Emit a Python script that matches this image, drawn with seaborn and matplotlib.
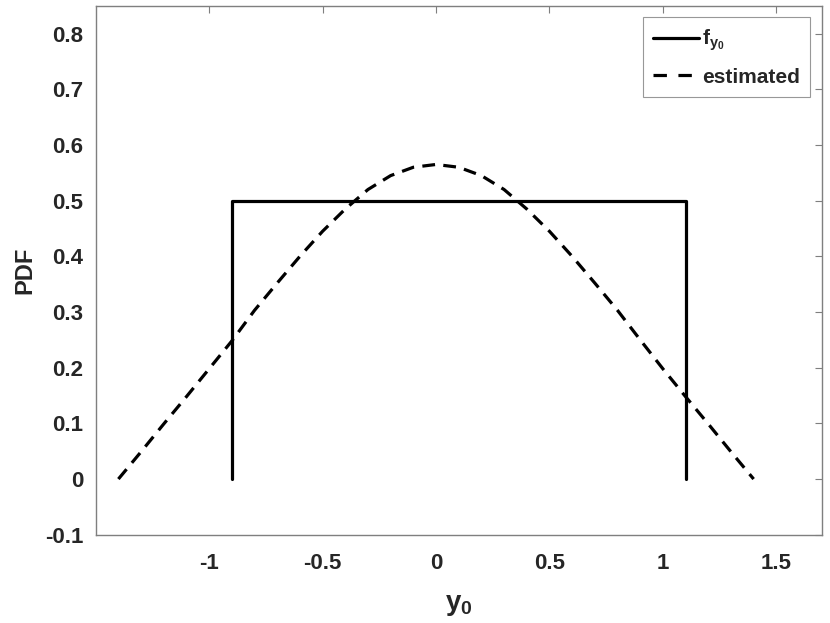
import numpy as np
import pandas as pd
import matplotlib
matplotlib.use("Agg")
import matplotlib.pyplot as plt
import seaborn as sns

# true pdf f_y0 (uniform on [-0.9, 1.1]) drawn as a box outline
true_x = [-0.9, -0.9, 1.1, 1.1]
true_y = [0.0, 0.5, 0.5, 0.0]

# estimated pdf
est_x = [-1.4, -1.3, -1.2, -1.1, -1.0, -0.9, -0.8, -0.7, -0.6, -0.5, -0.4, -0.3, -0.2, -0.1,
         0.0, 0.1, 0.2, 0.3, 0.4, 0.5, 0.6, 0.7, 0.8, 0.9, 1.0, 1.1, 1.2, 1.3, 1.4]
est_y = [0.0, 0.049, 0.099, 0.148, 0.198, 0.248, 0.303, 0.352, 0.400, 0.445, 0.485, 0.520, 0.545, 0.560,
         0.565, 0.560, 0.545, 0.520, 0.485, 0.445, 0.400, 0.352, 0.303, 0.250, 0.198, 0.148, 0.099, 0.049, 0.0]

x_ticks = [-1, -0.5, 0, 0.5, 1, 1.5]
x_ticklabels = ["-1", "-0.5", "0", "0.5", "1", "1.5"]
y_ticks = [-0.1, 0, 0.1, 0.2, 0.3, 0.4, 0.5, 0.6, 0.7, 0.8]
y_ticklabels = ["-0.1", "0", "0.1", "0.2", "0.3", "0.4", "0.5", "0.6", "0.7", "0.8"]

sns.set_style("white")
plt.rcParams['font.family'] = ['Liberation Sans', 'DejaVu Sans']
plt.rcParams['font.weight'] = 'bold'
plt.rcParams['mathtext.fontset'] = 'custom'
plt.rcParams['mathtext.rm'] = 'Liberation Sans:bold'
plt.rcParams['mathtext.it'] = 'Liberation Sans:bold'
plt.rcParams['mathtext.bf'] = 'Liberation Sans:bold'
plt.rcParams['mathtext.default'] = 'rm'

axis_gray = '#262626'
edge_gray = '#7f7f7f'

fig = plt.figure(figsize=(8.3, 6.23), dpi=100)
ax = fig.add_axes([0.1153, 0.1417, 0.8747, 0.849])

df_true = pd.DataFrame({'x': true_x, 'y': true_y})
df_est = pd.DataFrame({'x': est_x, 'y': est_y})

sns.lineplot(data=df_true, x='x', y='y', sort=False, estimator=None, color='black',
             lw=2.3, ax=ax, label=r'$f_{y_0}$')
sns.lineplot(data=df_est, x='x', y='y', sort=False, estimator=None, color='black',
             lw=2.3, ax=ax, label='estimated')
ax.lines[1].set_dashes([4, 2.6])

ax.set_xlim(-1.5, 1.7)
ax.set_ylim(-0.1, 0.85)
ax.set_xticks(x_ticks)
ax.set_xticklabels(x_ticklabels)
ax.set_yticks(y_ticks)
ax.set_yticklabels(y_ticklabels)

ax.tick_params(axis='both', which='both', direction='in', length=5, width=0.8,
               color=edge_gray, labelsize=16, labelcolor=axis_gray,
               top=True, right=True)
ax.tick_params(axis='x', pad=13)
ax.tick_params(axis='y', pad=9)
for lab in ax.get_xticklabels() + ax.get_yticklabels():
    lab.set_fontweight('bold')

for sp in ax.spines.values():
    sp.set_color(edge_gray)
    sp.set_linewidth(1.0)

ax.set_xlabel(r'$y_0$', fontsize=20, color=axis_gray, labelpad=13)
ax.set_ylabel('PDF', fontsize=17, fontweight='bold', color=axis_gray, labelpad=6)

leg = ax.legend(loc='upper right', fontsize=15, frameon=True, fancybox=False,
                handlelength=2.2, handletextpad=0.15, borderpad=0.5,
                labelspacing=0.7, borderaxespad=0.55)
leg.get_frame().set_edgecolor(edge_gray)
leg.get_frame().set_linewidth(0.8)
for t in leg.get_texts():
    t.set_fontweight('bold')
# two long dashes in the legend handle, like the reference
for h in leg.legend_handles:
    if h.get_label() == 'estimated' or h.get_linestyle() != '-':
        h.set_linewidth(2.3)
        h.set_dashes([4.2, 3.6])

fig.savefig('out.png', dpi=100)
